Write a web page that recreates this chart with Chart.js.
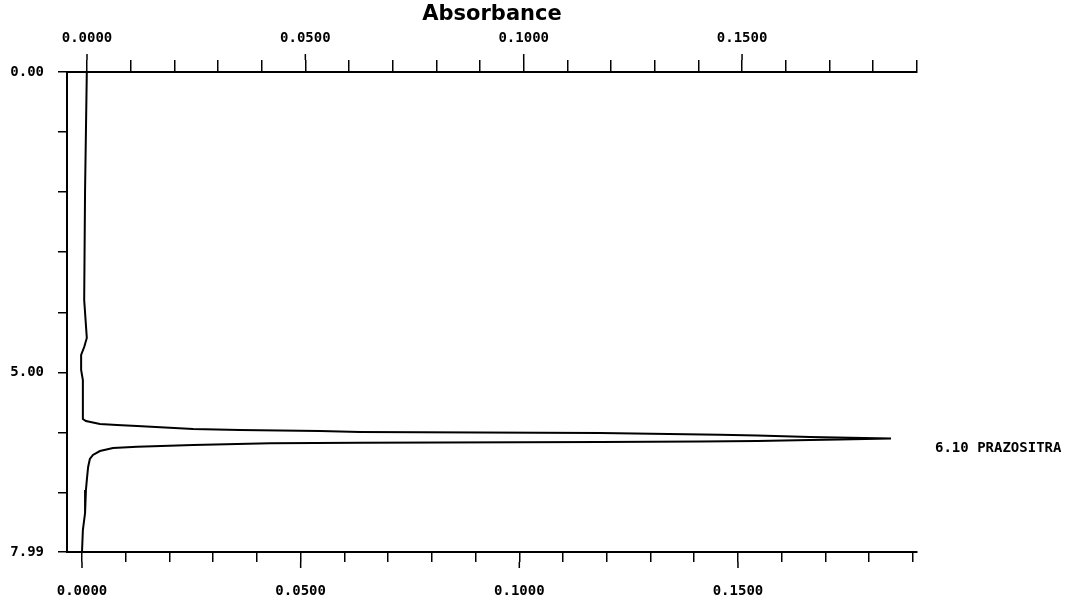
<!DOCTYPE html>
<html>
<head>
<meta charset="utf-8">
<script src="https://cdn.jsdelivr.net/npm/chart.js@4.4.1/dist/chart.umd.min.js"></script>
<style>
  html, body { margin: 0; padding: 0; background: #fff; }
  canvas { display: block; }
</style>
</head>
<body>
<canvas id="chromatogram" width="1067" height="603"></canvas>
<script>
// retention time (min) and absorbance of the trace, in time order
const timeMin = [
    0.000, 1.964, 3.795, 4.428, 4.578, 4.711, 4.961, 5.127, 5.776,
    5.809, 5.859, 5.876, 5.893, 5.943, 5.959, 5.976, 5.993, 6.009,
    6.038, 6.051, 6.076, 6.100, 6.117, 6.126, 6.142, 6.151, 6.159,
    6.171, 6.181, 6.209, 6.237, 6.259, 6.309, 6.375, 6.442, 6.575,
    6.792, 6.958, 7.341, 7.624, 7.990
];
const absorbance = [
    0.0011, 0.0007, 0.0005, 0.0011, 0.0005, -0.0002, -0.0002, 0.0002, 0.0002,
    0.0009, 0.0041, 0.0080, 0.0126, 0.0254, 0.0361, 0.0544, 0.0636, 0.1185,
    0.1459, 0.1544, 0.1665, 0.1850, 0.1733, 0.1665, 0.1544, 0.1413, 0.1185,
    0.0636, 0.0430, 0.0254, 0.0126, 0.0071, 0.0041, 0.0025, 0.0018, 0.0014,
    0.0011, 0.0009, 0.0007, 0.0002, 0.0000
];

// axis ticks and the labels printed on them
const absTicks = [0.00, 0.01, 0.02, 0.03, 0.04, 0.05, 0.06, 0.07, 0.08, 0.09,
                  0.10, 0.11, 0.12, 0.13, 0.14, 0.15, 0.16, 0.17, 0.18, 0.19];
const absLabels = ['0.0000', '0.0500', '0.1000', '0.1500'];
const timeTicks = [0, 1, 2, 3, 4, 5, 6, 7, 7.99];
const timeLabels = ['0.00', '5.00', '7.99'];

// peak annotation
const peakTime = 6.10;
const peakName = 'PRAZOSITRA';

const tickFont = { family: 'DejaVu Sans Mono', size: 14, weight: 'bold' };

const absTickLabel = v => {
    const s = Number(v).toFixed(4);
    return absLabels.includes(s) ? s : '';
};

// longer tick marks at the labelled absorbance values, plus the peak name
const chromaExtras = {
    id: 'chromaExtras',
    afterDraw(chart) {
        const ctx = chart.ctx;
        const area = chart.chartArea;
        ctx.save();
        ctx.strokeStyle = '#000';
        ctx.lineWidth = 1.5;
        [['x', 1, 10, 6], ['x2', -1, 12, 6]].forEach(([id, dir, len, extra]) => {
            const s = chart.scales[id];
            const y0 = id === 'x' ? area.bottom : area.top;
            s.ticks.forEach(t => {
                if (absTickLabel(t.value) === '') return;
                const px = s.getPixelForValue(t.value);
                ctx.beginPath();
                ctx.moveTo(px, y0 + dir * len);
                ctx.lineTo(px, y0 + dir * (len + extra));
                ctx.stroke();
            });
        });

        const yPeak = chart.scales.y.getPixelForValue(peakTime);
        ctx.fillStyle = '#000';
        ctx.font = 'bold 14px "DejaVu Sans Mono"';
        ctx.textAlign = 'left';
        ctx.textBaseline = 'middle';
        ctx.fillText(peakTime.toFixed(2) + ' ' + peakName, area.right + 18, yPeak + 10);
        ctx.restore();
    }
};

const ctx = document.getElementById('chromatogram').getContext('2d');
new Chart(ctx, {
    type: 'scatter',
    data: {
        datasets: [{
            data: timeMin.map((t, i) => ({ x: absorbance[i], y: t })),
            xAxisID: 'x',
            yAxisID: 'y',
            showLine: true,
            borderColor: '#000',
            borderWidth: 2,
            pointRadius: 0,
            tension: 0,
            fill: false
        }]
    },
    options: {
        responsive: false,
        animation: false,
        layout: { padding: { left: 0, right: 150, top: 0, bottom: 0 } },
        plugins: {
            legend: { display: false },
            tooltip: { enabled: false }
        },
        scales: {
            x: {
                type: 'linear',
                position: 'bottom',
                min: -0.00343,
                max: 0.19094,
                afterBuildTicks: s => { s.ticks = absTicks.map(v => ({ value: v })); },
                afterFit: s => { s.height = 51; },
                grid: { drawOnChartArea: false, tickLength: 10, color: '#000', lineWidth: 1.5 },
                border: { display: true, color: '#000', width: 2 },
                ticks: {
                    autoSkip: false,
                    maxRotation: 0,
                    padding: 21,
                    color: '#000',
                    font: tickFont,
                    callback: v => absTickLabel(v)
                }
            },
            x2: {
                type: 'linear',
                position: 'top',
                min: -0.00458,
                max: 0.19006,
                afterBuildTicks: s => { s.ticks = absTicks.map(v => ({ value: v })); },
                afterFit: s => { s.height = 72; },
                grid: { drawOnChartArea: false, tickLength: 12, color: '#000', lineWidth: 1.5 },
                border: { display: true, color: '#000', width: 2 },
                title: {
                    display: true,
                    text: 'Absorbance',
                    color: '#000',
                    font: { family: 'DejaVu Sans', size: 21, weight: 'bold' },
                    padding: { top: 2, bottom: 0 }
                },
                ticks: {
                    autoSkip: false,
                    maxRotation: 0,
                    padding: 13,
                    color: '#000',
                    font: tickFont,
                    callback: v => absTickLabel(v)
                }
            },
            y: {
                type: 'linear',
                position: 'left',
                reverse: true,
                min: 0,
                max: 7.99,
                afterBuildTicks: s => { s.ticks = timeTicks.map(v => ({ value: v })); },
                afterFit: s => { s.width = 67; },
                grid: { drawOnChartArea: false, tickLength: 9, color: '#000', lineWidth: 1.5 },
                border: { display: true, color: '#000', width: 2 },
                ticks: {
                    autoSkip: false,
                    padding: 14,
                    color: '#000',
                    font: tickFont,
                    callback: v => {
                        const s = Number(v).toFixed(2);
                        return timeLabels.includes(s) ? s : '';
                    }
                }
            }
        }
    },
    plugins: [chromaExtras]
});
</script>
</body>
</html>
